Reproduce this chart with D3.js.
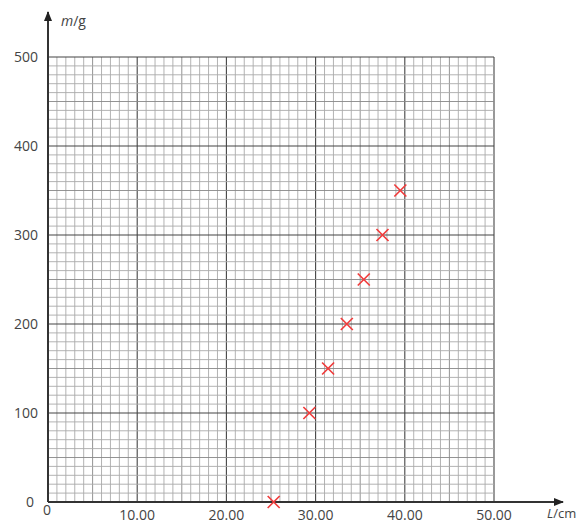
<!DOCTYPE html>
<html>
<head>
<meta charset="utf-8">
<script src="https://cdn.jsdelivr.net/npm/d3@7"></script>
<style>
  body { margin: 0; background: #fff; }
  text { font-family: "Open Sans", sans-serif; fill: #444; }
</style>
</head>
<body>
<div id="chart"></div>
<script>
var lengths = [25.3, 29.3, 31.4, 33.5, 35.4, 37.5, 39.5];
var masses  = [0, 100, 150, 200, 250, 300, 350];
var xTicks = [10, 20, 30, 40, 50];
var yTicks = [0, 100, 200, 300, 400, 500];

var W = 584, H = 524;
var x = d3.scaleLinear().domain([0, 50]).range([48, 494]);
var y = d3.scaleLinear().domain([0, 500]).range([502, 57]);

var svg = d3.select('#chart').append('svg')
  .attr('width', W).attr('height', H);

var grid = svg.append('g').attr('class', 'grid');

// minor lines, 1 cm and 10 g
grid.selectAll('.vx').data(d3.range(0, 51))
  .enter().append('line')
  .attr('x1', function(d){ return x(d); }).attr('x2', function(d){ return x(d); })
  .attr('y1', y(0)).attr('y2', y(500))
  .attr('stroke', function(d){ return d % 10 === 0 ? '#444' : (d % 5 === 0 ? '#888' : '#aaa'); })
  .attr('stroke-width', function(d){ return d % 10 === 0 ? 1.1 : 0.9; });

grid.selectAll('.hy').data(d3.range(0, 501, 10))
  .enter().append('line')
  .attr('y1', function(d){ return y(d); }).attr('y2', function(d){ return y(d); })
  .attr('x1', x(0)).attr('x2', x(50))
  .attr('stroke', function(d){ return d % 100 === 0 ? '#444' : (d % 50 === 0 ? '#888' : '#aaa'); })
  .attr('stroke-width', function(d){ return d % 100 === 0 ? 1.1 : 0.9; });

// arrows
var defs = svg.append('defs');
defs.append('marker').attr('id', 'arr')
  .attr('viewBox', '0 0 10 10').attr('refX', 9).attr('refY', 5)
  .attr('markerWidth', 5).attr('markerHeight', 5).attr('orient', 'auto')
  .append('path').attr('d', 'M0,1 L10,5 L0,9 Z').attr('fill', '#222');

svg.append('line')
  .attr('x1', x(0)).attr('x2', 563)
  .attr('y1', y(0)).attr('y2', y(0))
  .attr('stroke', '#333').attr('stroke-width', 2)
  .attr('marker-end', 'url(#arr)');

svg.append('line')
  .attr('x1', x(0)).attr('x2', x(0))
  .attr('y1', y(0)).attr('y2', 12)
  .attr('stroke', '#333').attr('stroke-width', 2)
  .attr('marker-end', 'url(#arr)');

// tick labels
svg.selectAll('.xl').data(xTicks)
  .enter().append('text')
  .attr('x', function(d){ return x(d); }).attr('y', 520)
  .attr('text-anchor', 'middle').attr('font-size', 14)
  .text(function(d){ return d.toFixed(2); });

svg.append('text').attr('x', x(0) - 1).attr('y', 515)
  .attr('text-anchor', 'middle').attr('font-size', 14).text('0');

svg.selectAll('.yl').data(yTicks)
  .enter().append('text')
  .attr('x', function(d){ return d === 0 ? 34 : 38; })
  .attr('y', function(d){ return y(d) + 5; })
  .attr('text-anchor', 'end').attr('font-size', 14)
  .text(function(d){ return d; });

// axis titles
var ty = svg.append('text').attr('x', 61).attr('y', 26).attr('font-size', 14);
ty.append('tspan').attr('font-style', 'italic').text('m');
ty.append('tspan').text('/g');

var tx = svg.append('text').attr('x', 547).attr('y', 518).attr('font-size', 13);
tx.append('tspan').attr('font-style', 'italic').text('L');
tx.append('tspan').text('/cm');

// crosses
var pts = lengths.map(function(l, i){ return {l: l, m: masses[i]}; });
var s = 6;
svg.selectAll('.pt').data(pts)
  .enter().append('path')
  .attr('d', function(d){
    var cx = x(d.l), cy = y(d.m);
    return 'M' + (cx - s) + ',' + (cy - s) + 'L' + (cx + s) + ',' + (cy + s) +
           'M' + (cx - s) + ',' + (cy + s) + 'L' + (cx + s) + ',' + (cy - s);
  })
  .attr('stroke', '#f03c3c').attr('stroke-width', 1.7).attr('fill', 'none');
</script>
</body>
</html>
